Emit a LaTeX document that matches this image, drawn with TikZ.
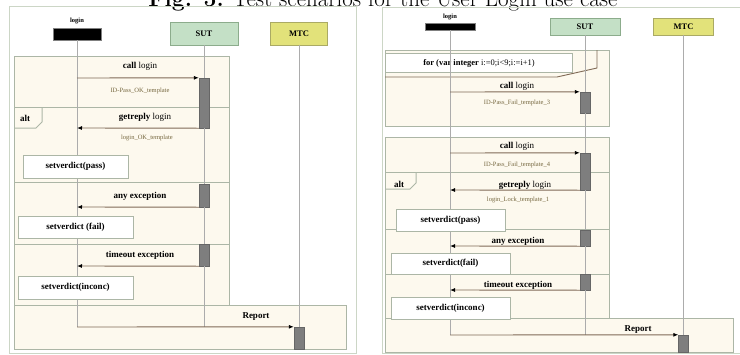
\documentclass[tikz,border=0pt]{standalone}
\usepackage{fontspec}
\usepackage{tikz}
\usetikzlibrary{arrows.meta}
\newfontfamily\diagfont{Liberation Serif}
\definecolor{fragfill}{RGB}{253,249,238}
\definecolor{fragline}{RGB}{172,182,166}
\definecolor{panelline}{RGB}{204,214,198}
\definecolor{sutfill}{RGB}{196,224,198}
\definecolor{sutline}{RGB}{140,172,140}
\definecolor{mtcfill}{RGB}{226,226,122}
\definecolor{mtcline}{RGB}{170,170,100}
\definecolor{actfill}{RGB}{126,126,126}
\definecolor{msgline}{RGB}{128,106,86}
\definecolor{lifegray}{RGB}{172,172,172}
\definecolor{tplcolor}{RGB}{118,104,64}

\begin{document}
\begin{tikzpicture}[x=1pt, y=-1pt,
    every node/.style={font=\diagfont\fontsize{9}{10}\selectfont, inner sep=0pt},
    panel/.style={draw=panelline, line width=0.8pt},
    frag/.style={draw=fragline, fill=fragfill, line width=1pt},
    fragdiv/.style={draw=fragline, line width=1pt},
    lifeline/.style={draw=lifegray, line width=1pt},
    headbar/.style={fill=black, draw=gray, minimum width=48pt, minimum height=12pt},
    sutbox/.style={draw=sutline, fill=sutfill, line width=0.8pt, minimum width=68pt, minimum height=23pt, font=\diagfont\bfseries\fontsize{8.5}{9}\selectfont},
    mtcbox/.style={draw=mtcline, fill=mtcfill, line width=0.8pt, minimum width=57pt, minimum height=23pt, font=\diagfont\bfseries\fontsize{8.5}{9}\selectfont},
    actbar/.style={draw=black!60, fill=actfill, minimum width=10pt},
    verdict/.style={draw=fragline, fill=white, line width=1pt, font=\diagfont\bfseries\fontsize{9}{10}\selectfont},
    msg/.style={draw=msgline, line width=0.9pt, -{Latex[black, length=5pt, width=4pt]}},
    msglbl/.style={font=\diagfont\bfseries\fontsize{9}{10}\selectfont},
    tpl/.style={text=tplcolor, font=\diagfont\fontsize{6.5}{7}\selectfont},
    headlbl/.style={font=\diagfont\bfseries\fontsize{6.5}{7}\selectfont}
  ]
  \useasboundingbox (0,0) rectangle (740,354);
  % caption of the figure, cut at the top
  \node[anchor=base, font=\fontsize{23}{25}\selectfont] (caption) at (383,6)
    {\textbf{Fig. 5.} Test scenarios for the User Login use case};

  % left panel: login succeeds
  \draw[panel] (9,6) rectangle (356,353);
  \draw[frag] (14,56) rectangle (229,305);
  \draw[fragdiv] (14,107) -- (229,107);
  \draw[fragdiv] (14,182) -- (229,182);
  \draw[fragdiv] (14,244) -- (229,244);
  \draw[fragdiv] (14,128) -- (36,128) -- (42,122) -- (42,107);
  \node[msglbl] (altA) at (25,118) {alt};
  \draw[frag] (14,305) rectangle (346,349);

  \node[headbar] (loginA) at (77,34) {};
  \node[headlbl, above=4pt] (loginAlbl) at (loginA.north) {login};
  \node[sutbox] (sutA) at (204,33.5) {SUT};
  \node[mtcbox] (mtcA) at (299,33.5) {MTC};

  \coordinate (loginAend) at (77,327);
  \coordinate (sutAend) at (204,327);
  \node[actbar, minimum height=50pt] (actA1) at (204,103) {};
  \node[actbar, minimum height=23pt] (actA2) at (204,195.5) {};
  \node[actbar, minimum height=22pt] (actA3) at (204,255) {};
  \node[actbar, minimum height=22pt] (actA4) at (299,338) {};
  \draw[lifeline] (loginA.south) -- (loginAend);
  \draw[lifeline] (sutA.south) -- (actA1.north);
  \draw[lifeline] (actA1.south) -- (actA2.north);
  \draw[lifeline] (actA2.south) -- (actA3.north);
  \draw[lifeline] (actA3.south) -- (sutAend);
  \draw[lifeline] (mtcA.south) -- (actA4.north);

  \coordinate (callA1) at (77,78);
  \coordinate (retA1) at (77,128);
  \coordinate (retA2) at (77,207);
  \coordinate (retA3) at (77,266);
  \draw[msg] (callA1) -- (actA1.north west);
  \node[msglbl] (callA1lbl) at (140,66) {call \mdseries login};
  \node[tpl] (callA1tpl) at (140,91) {ID-Pass\_OK\_template};
  \draw[msg] (actA1.south west) -- (retA1);
  \node[msglbl] (retA1lbl) at (145,117) {getreply \mdseries login};
  \node[tpl] (retA1tpl) at (147,138) {login\_OK\_template};
  \draw[msg] (actA2.south west) -- (retA2);
  \node[msglbl] (retA2lbl) at (140,196) {any exception};
  \draw[msg] (actA3.south west) -- (retA3);
  \node[msglbl] (retA3lbl) at (140,255) {timeout exception};
  \draw[msg] (loginAend) -- (actA4.north west);
  \node[msglbl] (reportA) at (256,317) {Report};

  \node[verdict, minimum width=105pt, minimum height=23pt] (passA) at (75.5,166.5) {setverdict(pass)};
  \node[verdict, minimum width=115pt, minimum height=22pt] (failA) at (75.5,227) {setverdict (fail)};
  \node[verdict, minimum width=115pt, minimum height=23pt] (inconcA) at (75.5,287.5) {setverdict(inconc)};

  % right panel: login fails nine times, then the account is locked
  \draw[panel] (382,7) rectangle (750,353);
  \draw[frag] (385,50) rectangle (609,126);
  \draw[frag] (385,137) rectangle (609,318);
  \draw[fragdiv] (385,172) -- (609,172);
  \draw[fragdiv] (385,229) -- (609,229);
  \draw[fragdiv] (385,274) -- (609,274);
  \draw[fragdiv] (385,189) -- (410,189) -- (416,183) -- (416,172);
  \node[msglbl] (altB) at (399,184) {alt};
  \draw[frag] (385,318) rectangle (733,352);

  \node[verdict, anchor=north west, minimum width=187pt, minimum height=19pt, font=\diagfont\bfseries\fontsize{8.5}{9}\selectfont] (forB) at (385,53)
    {for (var integer \mdseries i:=0;i<9;i:=i+1)};
  \draw[draw=msgline, line width=0.9pt] (597,50) -- (597,68) -- (557,77) -- (385,77);

  \node[headbar, minimum width=50pt, minimum height=7pt] (loginB) at (450,26.5) {};
  \node[headlbl] (loginBlbl) at (450,17) {login};
  \node[sutbox, minimum width=70pt, minimum height=17pt] (sutB) at (585,26.5) {SUT};
  \node[mtcbox, minimum width=60pt, minimum height=17pt] (mtcB) at (683.5,26.5) {MTC};

  \coordinate (loginBend) at (450,335);
  \coordinate (sutBend) at (585,335);
  \node[actbar, minimum height=21pt] (actB1) at (585,102.5) {};
  \node[actbar, minimum height=37pt] (actB2) at (585,171.5) {};
  \node[actbar, minimum height=16pt] (actB3) at (585,238) {};
  \node[actbar, minimum height=16pt] (actB4) at (585,282) {};
  \node[actbar, minimum height=17pt] (actB5) at (683.5,343.5) {};
  \draw[lifeline] (loginB.south) -- (loginBend);
  \draw[lifeline] (sutB.south) -- (actB1.north);
  \draw[lifeline] (actB1.south) -- (actB2.north);
  \draw[lifeline] (actB2.south) -- (actB3.north);
  \draw[lifeline] (actB3.south) -- (actB4.north);
  \draw[lifeline] (actB4.south) -- (sutBend);
  \draw[lifeline] (mtcB.south) -- (actB5.north);

  \coordinate (callB1) at (450,92);
  \coordinate (callB2) at (450,153);
  \coordinate (retB2) at (450,190);
  \coordinate (retB3) at (450,246);
  \coordinate (retB4) at (450,290);
  \draw[msg] (callB1) -- (actB1.north west);
  \node[msglbl] (callB1lbl) at (517,86) {call \mdseries login};
  \node[tpl] (callB1tpl) at (517,103) {ID-Pass\_Fail\_template\_3};
  \draw[msg] (callB2) -- (actB2.north west);
  \node[msglbl] (callB2lbl) at (517,146) {call \mdseries login};
  \node[tpl] (callB2tpl) at (517,165) {ID-Pass\_Fail\_template\_4};
  \draw[msg] (actB2.south west) -- (retB2);
  \node[msglbl] (retB2lbl) at (525,185) {getreply \mdseries login};
  \node[tpl] (retB2tpl) at (518,200) {login\_Lock\_template\_1};
  \draw[msg] (actB3.south west) -- (retB3);
  \node[msglbl] (retB3lbl) at (518,241) {any exception};
  \draw[msg] (actB4.south west) -- (retB4);
  \node[msglbl] (retB4lbl) at (518,285) {timeout exception};
  \draw[msg] (loginBend) -- (actB5.north west);
  \node[msglbl] (reportB) at (638,330) {Report};

  \node[verdict, minimum width=109pt, minimum height=22pt] (passB) at (450.5,220) {setverdict(pass)};
  \node[verdict, minimum width=119pt, minimum height=21pt] (failB) at (450.5,263.5) {setverdict(fail)};
  \node[verdict, minimum width=119pt, minimum height=22pt] (inconcB) at (450.5,308) {setverdict(inconc)};
\end{tikzpicture}
\end{document}
